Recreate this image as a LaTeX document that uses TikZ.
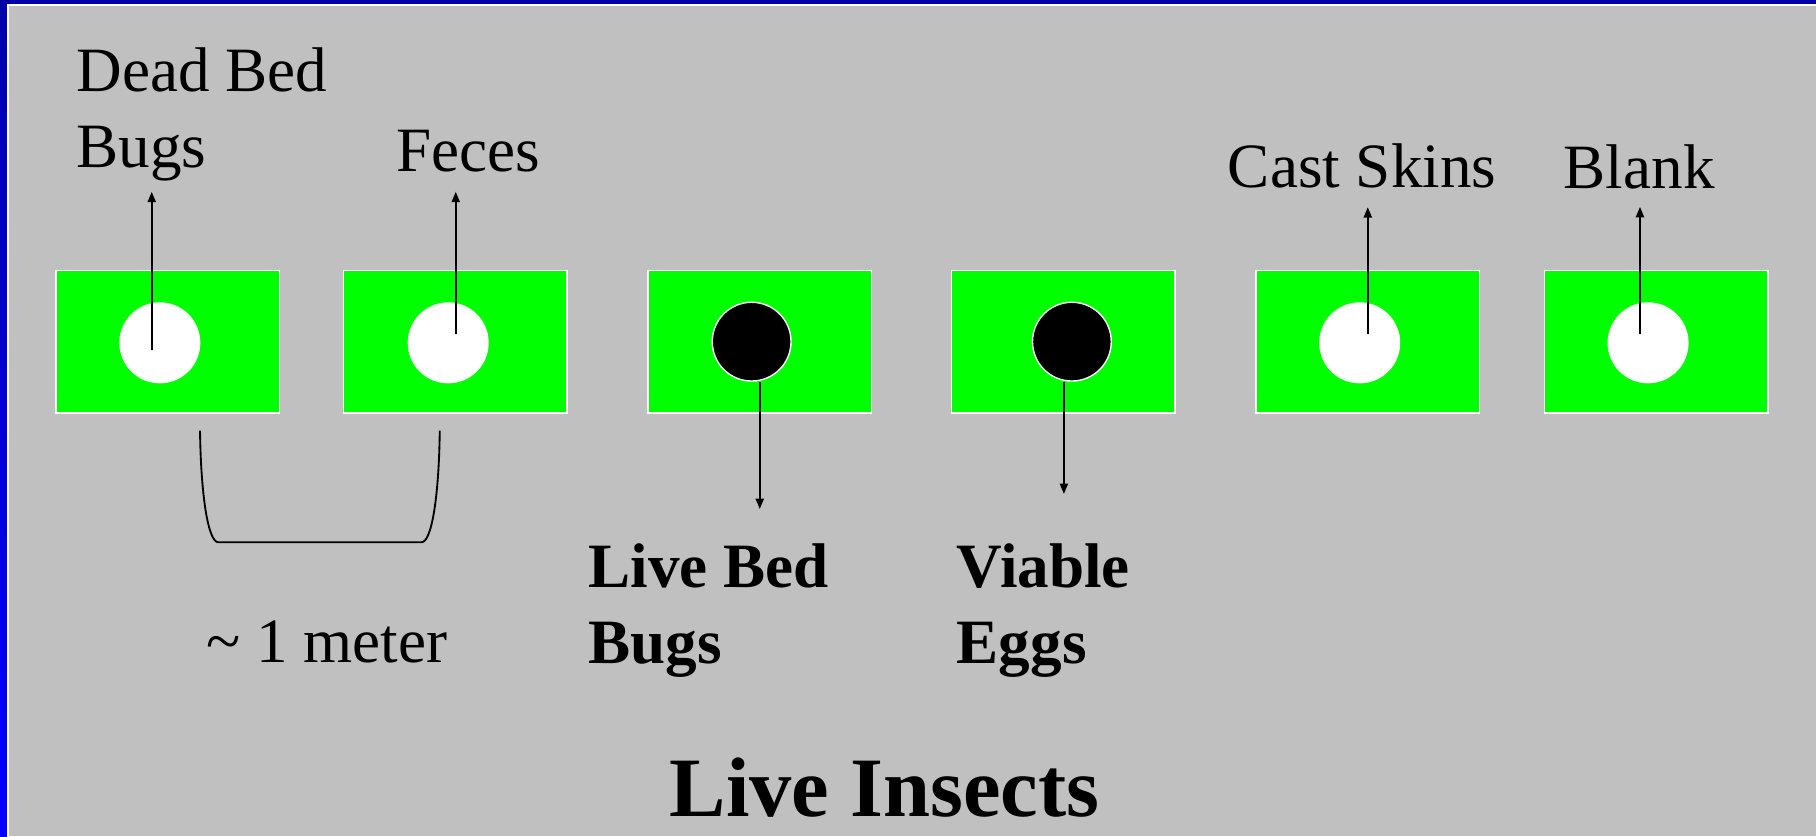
\documentclass[tikz,border=0pt]{standalone}
\usepackage{fontspec}
\setmainfont{Liberation Serif}
\usetikzlibrary{arrows.meta,calc}
\definecolor{bg}{HTML}{C0C0C0}
\definecolor{grn}{HTML}{00FF00}
\definecolor{dblue}{HTML}{0000A8}
\definecolor{bblue}{HTML}{0000FF}
\begin{document}
\begin{tikzpicture}[x=1pt,y=-1pt,
  tray/.style={rectangle, draw=white, line width=1.3pt, fill=grn, minimum width=193pt, minimum height=123pt, inner sep=0pt},
  spot/.style={circle, fill=white, minimum size=70pt, inner sep=0pt},
  live/.style={circle, fill=black, draw=white, line width=1.2pt, minimum size=68pt, inner sep=0pt},
  lbl/.style={anchor=base west, inner sep=0pt, font=\fontsize{54.5}{66}\selectfont},
  blbl/.style={anchor=base west, inner sep=0pt, font=\fontsize{54.5}{66}\selectfont\bfseries},
  ttl/.style={anchor=base west, inner sep=0pt, font=\fontsize{73}{88}\selectfont\bfseries},
  arr/.style={-{Triangle[length=9pt,width=7pt]}, line width=1.6pt},
  brace/.style={line width=1.6pt}
]
\useasboundingbox (0,0) rectangle (1568,722);
% slide background and frame
\fill[bg] (0,0) rectangle (1568,722);
\shade[top color=dblue, bottom color=bblue] (0,0) rectangle (6,722);
\fill[dblue] (0,0) rectangle (1568,3.5);
\fill[white] (6,3.5) rectangle (1568,5.2);
\fill[white] (6,3.5) rectangle (7.8,722);

% trays
\node[tray] (b1) at (145,295) {};
\node[tray] (b2) at (393,295) {};
\node[tray] (b3) at (656,295) {};
\node[tray] (b4) at (918,295) {};
\node[tray] (b5) at (1181,295) {};
\node[tray] (b6) at (1430,295) {};

% spots
\node[spot] (c1) at (138,296) {};
\node[spot] (c2) at (387,296) {};
\node[live] (c3) at (649,295) {};
\node[live] (c4) at (925.5,295) {};
\node[spot] (c5) at (1174,296) {};
\node[spot] (c6) at (1423,296) {};

% labels
\node[lbl] (l1a) at (66,79) {Dead Bed};
\node[lbl] (l1b) at (66,145) {Bugs};
\node[lbl] (l2) at (342,148) {Feces};
\node[lbl] (l5) at (1060,162) {Cast Skins};
\node[lbl] (l6) at (1350,163) {Blank};
\node[blbl] (l3a) at (508,507) {Live Bed};
\node[blbl] (l3b) at (508,573) {Bugs};
\node[blbl] (l4a) at (826,507) {Viable};
\node[blbl] (l4b) at (826,573) {Eggs};
\node[lbl] (dist) at (178,572) {\textasciitilde\ 1 meter};
\node[ttl] (title) at (578,705) {Live Insects};

% arrow tips
\coordinate (t1) at (131,165.6);
\coordinate (t2) at (393.5,165.6);
\coordinate (t3) at (656,439.5);
\coordinate (t4) at (918.6,426.5);
\coordinate (t5) at (1181,178.9);
\coordinate (t6) at (1416,178.6);

\draw[arr] ($(c1.center -| t1)+(0,6)$) -- (t1);
\draw[arr] ($(c2.center -| t2)+(0,-8)$) -- (t2);
\draw[arr] (c3.south -| t3) -- (t3);
\draw[arr] (c4.south -| t4) -- (t4);
\draw[arr] ($(c5.center -| t5)+(0,-7.5)$) -- (t5);
\draw[arr] ($(c6.center -| t6)+(0,-7.5)$) -- (t6);

% distance bracket
\coordinate (bl) at (172.7,371.8);
\coordinate (br) at (379.7,371.8);
\draw[brace] (bl) .. controls (173.5,430) and (180,468.2) .. (188.5,468.2)
  -- (364,468.2) .. controls (372.5,468.2) and (379,430) .. (br);
\end{tikzpicture}
\end{document}
